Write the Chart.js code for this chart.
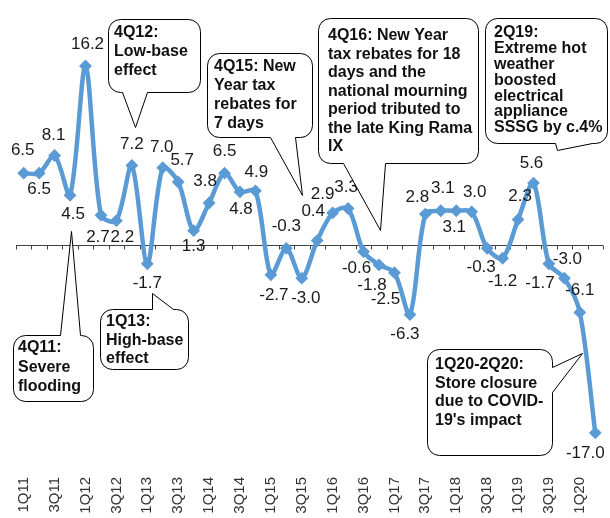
<!DOCTYPE html>
<html>
<head>
<meta charset="utf-8">
<script src="https://cdn.jsdelivr.net/npm/chart.js@4.4.1/dist/chart.umd.min.js"></script>
<style>
  html, body { margin: 0; padding: 0; background: #fff; }
  #wrap { width: 610px; height: 518px; position: relative; }
</style>
</head>
<body>
<div id="wrap"><canvas id="sssgChart"></canvas></div>
<script>
const quarters = ['1Q11','2Q11','3Q11','4Q11','1Q12','2Q12','3Q12','4Q12','1Q13','2Q13','3Q13','4Q13',
    '1Q14','2Q14','3Q14','4Q14','1Q15','2Q15','3Q15','4Q15','1Q16','2Q16','3Q16','4Q16',
    '1Q17','2Q17','3Q17','4Q17','1Q18','2Q18','3Q18','4Q18','1Q19','2Q19','3Q19','4Q19','1Q20','2Q20'];

const sssg = [6.5, 6.5, 8.1, 4.5, 16.2, 2.7, 2.2, 7.2, -1.7, 7.0, 5.7, 1.3,
    3.8, 6.5, 4.8, 4.9, -2.7, -0.3, -3.0, 0.4, 2.9, 3.3, -0.6, -1.8,
    -2.5, -6.3, 2.8, 3.1, 3.1, 3.0, -0.3, -1.2, 2.3, 5.6, -1.7, -3.0, -6.1, -17.0];

const yMin = -20;
const yMax = 20;

// where each value label sits relative to its point (dx, dy)
const labelOffsets = [[-1,-23],[0,16],[-1,-20],[3,19],[2,-22],[-3,22],[6,17],[0,-21],[0,20],[-1,-20],
    [4,-22],[0,16],[-4,-22],[0,-22],[1,17],[1,-19],[3,20],[0,-22],[4,20],[-4,-29],
    [-10,-19],[-2,-21],[-7,17],[-7,20],[-9,27],[-5,20],[-8,-17],[2,-22],[-2,17],[3,-20],
    [-6,19],[0,23],[2,-23],[-2,-20],[-9,20],[3,-19],[0,-22],[-10,20]];

// callout boxes: box [x, y, w, h], text start, line height, tail [base1, tip, base2]
const callouts = [
    { lines: ['4Q12:', 'Low-base', 'effect'], box: [108, 19, 92, 73], tx: 114, ty: 33, lh: 19,
      side: 'bottom', tail: [[122, 92], [135, 127], [147, 92]] },
    { lines: ['4Q15: New', 'Year tax', 'rebates for', '7 days'], box: [207, 53, 105, 84], tx: 214, ty: 67, lh: 19,
      side: 'bottom', tail: [[270, 137], [302, 195], [295, 137]] },
    { lines: ['4Q16: New Year', 'tax rebates for 18', 'days and the', 'national mourning', 'period tributed to', 'the late King Rama', 'IX'],
      box: [318, 18, 160, 145], tx: 328, ty: 36, lh: 18.5,
      side: 'bottom', tail: [[343, 163], [380, 230], [385, 163]] },
    { lines: ['2Q19:', 'Extreme hot', 'weather', 'boosted', 'electrical', 'appliance', 'SSSG by c.4%'],
      box: [485, 18, 122, 125], tx: 494, ty: 33, lh: 15.8,
      side: 'bottom', tail: [[555, 143], [557, 150], [592, 143]] },
    { lines: ['4Q11:', 'Severe', 'flooding'], box: [13, 335, 80, 66], tx: 18, ty: 348, lh: 19.5,
      side: 'top', tail: [[60, 335], [71, 231], [80, 335]] },
    { lines: ['1Q13:', 'High-base', 'effect'], box: [100, 309, 88, 60], tx: 106, ty: 322, lh: 18.5,
      side: 'top', tail: [[152, 309], [152, 293], [173, 309]] },
    { lines: ['1Q20-2Q20:', 'Store closure', 'due to COVID-', "19's impact"], box: [427, 349, 125, 106], tx: 435, ty: 365, lh: 18.5,
      side: 'right', tail: [[552, 367], [582, 353], [552, 392]] }
];

const FONT = "'Liberation Sans', Arial, sans-serif";

function roundRect(ctx, x, y, w, h, r) {
    ctx.beginPath();
    ctx.moveTo(x + r, y);
    ctx.lineTo(x + w - r, y);
    ctx.arcTo(x + w, y, x + w, y + r, r);
    ctx.lineTo(x + w, y + h - r);
    ctx.arcTo(x + w, y + h, x + w - r, y + h, r);
    ctx.lineTo(x + r, y + h);
    ctx.arcTo(x, y + h, x, y + h - r, r);
    ctx.lineTo(x, y + r);
    ctx.arcTo(x, y, x + r, y, r);
    ctx.closePath();
}

// zero line with small tick marks between the quarters
const zeroAxis = {
    id: 'zeroAxis',
    beforeDatasetsDraw(chart) {
        const ctx = chart.ctx;
        const xs = chart.scales.x, ys = chart.scales.y;
        const y0 = Math.round(ys.getPixelForValue(0)) + 0.5;
        ctx.save();
        ctx.strokeStyle = '#404040';
        ctx.lineWidth = 1;
        ctx.beginPath();
        ctx.moveTo(xs.left, y0);
        ctx.lineTo(xs.right, y0);
        for (let k = 0; k <= quarters.length; k++) {
            const x = Math.round(xs.getPixelForValue(k - 0.5)) + 0.5;
            ctx.moveTo(x, y0);
            ctx.lineTo(x, y0 + 4);
        }
        ctx.stroke();
        ctx.restore();
    }
};

const valueLabels = {
    id: 'valueLabels',
    afterDatasetsDraw(chart) {
        const ctx = chart.ctx;
        const pts = chart.getDatasetMeta(0).data;
        ctx.save();
        ctx.font = '17px ' + FONT;
        ctx.fillStyle = '#1a1a1a';
        ctx.textAlign = 'center';
        ctx.textBaseline = 'middle';
        pts.forEach((p, i) => {
            const off = labelOffsets[i];
            ctx.fillText(sssg[i].toFixed(1), p.x + off[0], p.y + off[1]);
        });

        // callouts on top
        ctx.lineWidth = 1;
        ctx.strokeStyle = '#000';
        callouts.forEach(c => {
            const [bx, by, bw, bh] = c.box;
            roundRect(ctx, bx + 0.5, by + 0.5, bw, bh, 12);
            ctx.fillStyle = '#fff';
            ctx.fill();
            ctx.stroke();
            const [a, tip, b] = c.tail;
            let ix = 0, iy = 0;
            if (c.side === 'bottom') iy = -2;
            if (c.side === 'top') iy = 2;
            if (c.side === 'right') ix = -2;
            ctx.beginPath();
            ctx.moveTo(a[0] + ix + 0.5, a[1] + iy + 0.5);
            ctx.lineTo(a[0] + 0.5, a[1] + 0.5);
            ctx.lineTo(tip[0] + 0.5, tip[1] + 0.5);
            ctx.lineTo(b[0] + 0.5, b[1] + 0.5);
            ctx.lineTo(b[0] + ix + 0.5, b[1] + iy + 0.5);
            ctx.closePath();
            ctx.fill();
            ctx.beginPath();
            ctx.moveTo(a[0] + 0.5, a[1] + 0.5);
            ctx.lineTo(tip[0] + 0.5, tip[1] + 0.5);
            ctx.lineTo(b[0] + 0.5, b[1] + 0.5);
            ctx.stroke();
            ctx.fillStyle = '#111';
            ctx.font = 'bold 16px ' + FONT;
            ctx.textAlign = 'left';
            ctx.textBaseline = 'middle';
            c.lines.forEach((t, j) => ctx.fillText(t, c.tx, c.ty + j * c.lh));
        });
        ctx.restore();
    }
};

const ctx = document.getElementById('sssgChart').getContext('2d');
const sssgChart = new Chart(ctx, {
    type: 'line',
    data: {
        labels: quarters,
        datasets: [{
            data: sssg,
            borderColor: '#5b9bd5',
            backgroundColor: '#5b9bd5',
            borderWidth: 4.5,
            tension: 0.3,
            pointStyle: 'rectRot',
            pointRadius: 5,
            pointBorderWidth: 2,
            pointBackgroundColor: '#5b9bd5',
            pointBorderColor: '#5b9bd5',
            clip: false
        }]
    },
    options: {
        responsive: true,
        maintainAspectRatio: false,
        animation: false,
        layout: { padding: { top: 24, left: 16, right: 3, bottom: 0 } },
        plugins: { legend: { display: false }, tooltip: { enabled: false } },
        scales: {
            x: {
                offset: true,
                grid: { display: false, drawTicks: false },
                border: { display: false },
                afterFit: scale => {
                    scale.height = 52;
                    scale.paddingLeft = 0;
                    scale.paddingRight = 0;
                },
                ticks: {
                    autoSkip: false,
                    minRotation: 90,
                    maxRotation: 90,
                    padding: 11,
                    color: '#333',
                    font: { size: 15, family: FONT },
                    callback: (v, i) => (i % 2 === 0 ? quarters[i] : '')
                }
            },
            y: {
                display: false,
                min: yMin,
                max: yMax
            }
        }
    },
    plugins: [zeroAxis, valueLabels]
});
</script>
</body>
</html>
